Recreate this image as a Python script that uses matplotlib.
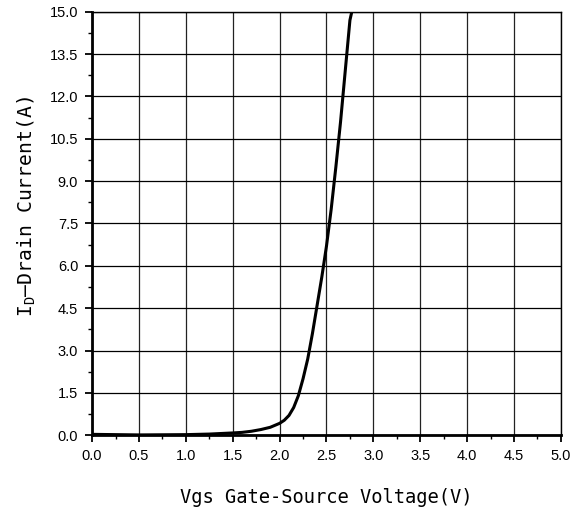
import matplotlib
matplotlib.use("Agg")
import matplotlib.pyplot as plt
from matplotlib.ticker import MultipleLocator

# transfer curve
vgs = [0.0, 0.5, 1.0, 1.25, 1.5, 1.6, 1.7, 1.8, 1.9, 2.0, 2.05, 2.1, 2.15, 2.2,
       2.25, 2.3, 2.35, 2.4, 2.45, 2.5, 2.55, 2.6, 2.65, 2.7, 2.75, 2.77]
i_d = [0.03, 0.01, 0.02, 0.04, 0.08, 0.10, 0.14, 0.20, 0.28, 0.42, 0.53, 0.70,
       0.98, 1.40, 2.00, 2.70, 3.60, 4.60, 5.60, 6.70, 8.00, 9.50, 11.1, 12.9,
       14.7, 15.0]

x_ticks = [0.0, 0.5, 1.0, 1.5, 2.0, 2.5, 3.0, 3.5, 4.0, 4.5, 5.0]
y_ticks = [0.0, 1.5, 3.0, 4.5, 6.0, 7.5, 9.0, 10.5, 12.0, 13.5, 15.0]

plt.rcParams["mathtext.fontset"] = "custom"
plt.rcParams["mathtext.rm"] = "DejaVu Sans Mono"

fig = plt.figure(figsize=(5.83, 5.12), dpi=100)
ax = fig.add_axes([0.158, 0.150, 0.804, 0.827])

ax.plot(vgs, i_d, color="black", lw=2.2, zorder=3)

ax.set_xlim(0, 5)
ax.set_ylim(0, 15)
ax.set_xticks(x_ticks)
ax.set_yticks(y_ticks)
ax.set_xticklabels([f"{v:.1f}" for v in x_ticks])
ax.set_yticklabels([f"{v:.1f}" for v in y_ticks])
ax.xaxis.set_minor_locator(MultipleLocator(0.25))
ax.yaxis.set_minor_locator(MultipleLocator(0.75))

for t in ax.get_xticklabels() + ax.get_yticklabels():
    t.set_fontfamily("Liberation Sans")
    t.set_fontsize(10.5)

ax.tick_params(which="major", direction="out", length=5, width=1.3, pad=5)
ax.tick_params(which="minor", direction="out", length=3, width=1.0)

ax.xaxis.grid(True, color="#222222", lw=0.9)
ax.yaxis.grid(True, color="black", lw=0.9)
ax.set_axisbelow(True)

for side in ["left", "bottom"]:
    ax.spines[side].set_linewidth(2.0)
for side in ["top", "right"]:
    ax.spines[side].set_linewidth(1.0)

ax.set_xlabel("Vgs Gate-Source Voltage(V)", fontfamily="DejaVu Sans Mono",
              fontsize=13.5)
ax.xaxis.label.set_va("center")
ax.xaxis.set_label_coords(0.5, -0.147)

ax.set_ylabel(r"I$_\mathrm{D}$—Drain Current(A)", fontfamily="DejaVu Sans Mono",
              fontsize=14.2)
ax.yaxis.label.set_va("center")
ax.yaxis.set_label_coords(-0.139, 0.541)

fig.savefig("out.png", dpi=100)
